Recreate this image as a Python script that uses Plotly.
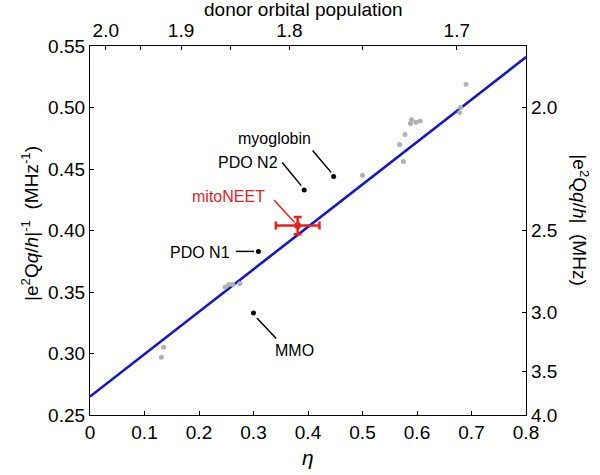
import plotly.graph_objects as go

# ---- data ----
ref_eta = [0.131, 0.135, 0.248, 0.255, 0.262, 0.275, 0.500, 0.568, 0.575, 0.578,
           0.588, 0.590, 0.598, 0.606, 0.678, 0.680, 0.690]
ref_inv = [0.297, 0.305, 0.354, 0.356, 0.356, 0.357, 0.445, 0.470, 0.456, 0.478,
           0.487, 0.490, 0.488, 0.489, 0.496, 0.500, 0.519]

named_names = ["myoglobin", "PDO N2", "PDO N1", "MMO"]
named_eta = [0.447, 0.393, 0.309, 0.300]
named_inv = [0.444, 0.433, 0.383, 0.333]

mito_eta = [0.381]
mito_inv = [0.404]
mito_eta_err = [0.040]
mito_inv_err = [0.007]

fit_eta = [0.0, 0.8]
fit_intercept = 0.265
fit_slope = 0.345

mhz_labels = [2.0, 2.5, 3.0, 3.5, 4.0]
pop_labels = ["2.0", "", "1.9", "", "1.8", "", "1.7"]
pop_tick_eta = [0.029, 0.093, 0.167, 0.257, 0.366, 0.500, 0.673]

FONT = "Liberation Sans, Arial, Helvetica, sans-serif"
PX_X = 545.0   # pixels per unit eta
PX_Y = 1231.0  # pixels per unit |e2Qq/h|^-1

fig = go.Figure()

fig.add_trace(go.Scatter(
    x=fit_eta, y=[fit_intercept + fit_slope * e for e in fit_eta],
    mode="lines", line=dict(color="#1414d2", width=2.6), showlegend=False,
    hoverinfo="skip"))

fig.add_trace(go.Scatter(
    x=ref_eta, y=ref_inv, mode="markers",
    marker=dict(color="#b0b0b0", size=5), showlegend=False))

fig.add_trace(go.Scatter(
    x=named_eta, y=named_inv, mode="markers",
    marker=dict(color="black", size=5), showlegend=False))

fig.add_trace(go.Scatter(
    x=mito_eta, y=mito_inv, mode="markers",
    marker=dict(color="#e8201c", size=7),
    error_x=dict(type="data", array=mito_eta_err, color="#e8201c", thickness=2.5, width=4),
    error_y=dict(type="data", array=mito_inv_err, color="#e8201c", thickness=2.5, width=4),
    showlegend=False))

# labels with leader lines: (label offset px, line start px, line end px) relative to point
label_specs = {
    "myoglobin": ((-59, -38), (-21, -26), (-2.5, -4)),
    "PDO N2": ((-56, -27), (-22, -27.5), (-3, -4.3)),
    "PDO N1": ((-58, 0.7), (-22.6, 0), (-4.3, 0)),
    "MMO": ((41, 38), (3.4, 5), (22.7, 25.7)),
}
label_specs_mito = ((-69, -29), (-23.7, -25.6), (-3, -3))

annotations = []
shapes = []


def add_label(text, ex, ey, spec, color):
    (lx, ly), (s0x, s0y), (s1x, s1y) = spec
    annotations.append(dict(
        x=ex + lx / PX_X, y=ey - ly / PX_Y, xref="x", yref="y", text=text,
        showarrow=False, font=dict(family=FONT, size=16, color=color),
        xanchor="center", yanchor="middle"))
    shapes.append(dict(
        type="line", xref="x", yref="y",
        x0=ex + s0x / PX_X, y0=ey - s0y / PX_Y,
        x1=ex + s1x / PX_X, y1=ey - s1y / PX_Y,
        line=dict(color=color, width=1.5)))


for n, e, v in zip(named_names, named_eta, named_inv):
    add_label(n, e, v, label_specs[n], "black")
add_label("mitoNEET", mito_eta[0], mito_inv[0], label_specs_mito, "#e8201c")

# axis titles
annotations += [
    dict(x=0.5, y=-0.116, xref="paper", yref="paper", text="<i>η</i>", showarrow=False,
         font=dict(family=FONT, size=21, color="black"), xanchor="center", yanchor="middle"),
    dict(x=0.49, y=1.099, xref="paper", yref="paper", text="donor orbital population",
         showarrow=False, font=dict(family=FONT, size=19, color="black"),
         xanchor="center", yanchor="middle"),
    dict(x=-0.138, y=0.52, xref="paper", yref="paper",
         text="|e<sup>2</sup>Q<i>q</i>/<i>h</i>|<sup>-1</sup>  (MHz<sup>-1</sup>)",
         showarrow=False, textangle=-90, font=dict(family=FONT, size=19, color="black"),
         xanchor="center", yanchor="middle"),
    dict(x=1.124, y=0.53, xref="paper", yref="paper",
         text="|e<sup>2</sup>Q<i>q</i>/<i>h</i>|  (MHz)",
         showarrow=False, textangle=90, font=dict(family=FONT, size=19, color="black"),
         xanchor="center", yanchor="middle"),
]

# invisible trace to activate secondary axes
fig.add_trace(go.Scatter(x=[None], y=[None], xaxis="x2", yaxis="y2", showlegend=False))

axis_common = dict(showgrid=False, zeroline=False, showline=True, linecolor="black",
                   linewidth=1.2, ticks="inside", ticklen=4, tickcolor="black",
                   automargin=False,
                   tickfont=dict(family=FONT, size=19, color="black"))

fig.update_layout(
    width=600, height=475,
    margin=dict(l=90, r=74, t=46, b=60, autoexpand=False),
    paper_bgcolor="white", plot_bgcolor="white",
    xaxis=dict(range=[0, 0.8], tickvals=[0, 0.1, 0.2, 0.3, 0.4, 0.5, 0.6, 0.7, 0.8],
               ticktext=["0", "0.1", "0.2", "0.3", "0.4", "0.5", "0.6", "0.7", "0.8"],
               **axis_common),
    yaxis=dict(range=[0.25, 0.55], tickvals=[0.25, 0.30, 0.35, 0.40, 0.45, 0.50, 0.55],
               ticktext=["0.25", "0.30", "0.35", "0.40", "0.45", "0.50", "0.55"],
               **axis_common),
    xaxis2=dict(range=[0, 0.8], overlaying="x", side="top", anchor="y",
                tickvals=pop_tick_eta, ticktext=pop_labels, **axis_common),
    yaxis2=dict(range=[0.25, 0.55], overlaying="y", side="right", anchor="x",
                tickvals=[1.0 / v for v in mhz_labels],
                ticktext=[f"{v:.1f}" for v in mhz_labels], **axis_common),
    annotations=annotations,
    shapes=shapes,
)

fig.write_html("out.html", config={"displayModeBar": False},
               post_script="document.body.style.margin='0';document.body.style.overflow='hidden';")
